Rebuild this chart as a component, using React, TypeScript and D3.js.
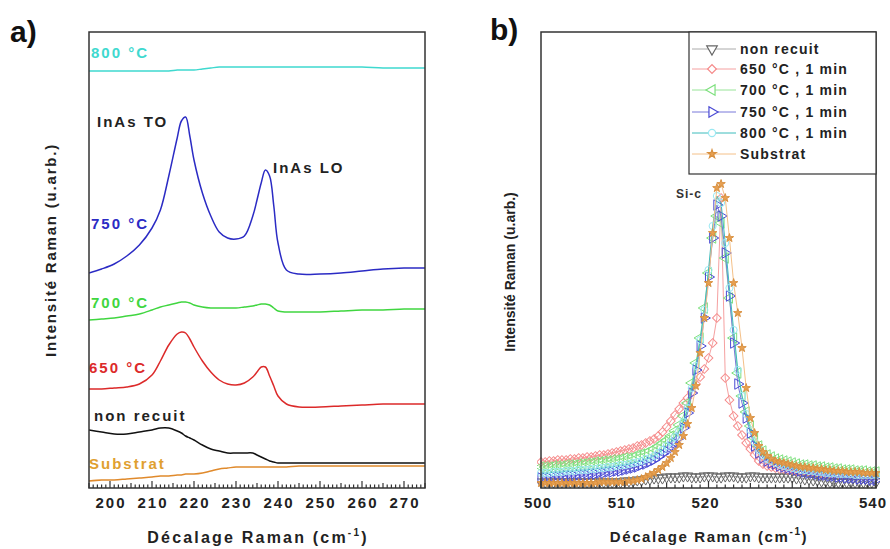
import React from "react";
import * as d3 from "d3";

// ---------- Panel a data (Raman shift, cm-1) ----------
const XA = [195, 198, 201, 204, 207, 210, 212, 214, 216, 217, 218, 219, 220, 222, 224, 226, 228, 230, 232, 234, 235, 236, 237, 238, 239, 240, 242, 245, 250, 255, 260, 265, 270, 275];
const A_800 = [417, 417, 417, 417, 417, 417, 417, 417, 418, 418, 418, 418, 418, 419, 420, 421, 421, 421, 421, 421, 421, 421, 421, 421, 421, 421, 421, 421, 421, 421, 421, 420, 420, 420];
const A_750 = [215, 219, 224, 232, 243, 260, 278, 312, 350, 367, 371, 352, 328, 295, 272, 256, 250, 249, 252, 272, 288, 305, 318, 312, 282, 245, 218, 214, 214, 215, 217, 219, 220, 220];
const A_700 = [168, 169, 170, 172, 174, 178, 181, 183, 185, 186, 186, 185, 183, 181, 180, 180, 180, 180, 181, 182, 183, 184, 184, 183, 180, 177, 176, 176, 176, 177, 178, 178, 179, 179];
const A_650 = [99, 99, 100, 101, 104, 113, 127, 143, 154, 156, 155, 149, 141, 127, 116, 108, 104, 103, 105, 111, 116, 121, 121, 112, 102, 92, 84, 81, 81, 82, 83, 84, 84, 84];
const A_NONRECUIT = [58, 56, 54, 54, 56, 58, 60, 60, 57, 55, 52, 50, 48, 43, 39, 37, 35, 35, 35, 35, 33, 31, 29, 27, 26, 25, 25, 25, 25, 25, 25, 25, 25, 25];
const A_SUBSTRAT = [7, 8, 8, 9, 10, 11, 12, 12, 13, 13, 14, 14, 14, 15, 17, 19, 20, 21, 21, 21, 21, 21, 21, 21, 21, 21, 21, 22, 22, 22, 22, 22, 22, 22];
const A_TICKS = [200, 210, 220, 230, 240, 250, 260, 270];

// ---------- Panel b data ----------
const XB = [
  500, 500.5, 501, 501.5, 502, 502.5, 503, 503.5, 504, 504.5, 505, 505.5, 506, 506.5, 507, 507.5, 508, 508.5, 509, 509.5,
  510, 510.5, 511, 511.5, 512, 512.5, 513, 513.5, 514, 514.5, 515, 515.5, 516, 516.5, 517, 517.5, 518, 518.5, 519, 519.5,
  520, 520.5, 521, 521.5, 522, 522.5, 523, 523.5, 524, 524.5, 525, 525.5, 526, 526.5, 527, 527.5, 528, 528.5, 529, 529.5,
  530, 530.5, 531, 531.5, 532, 532.5, 533, 533.5, 534, 534.5, 535, 535.5, 536, 536.5, 537, 537.5, 538, 538.5, 539, 539.5, 540,
];
const B_NONRECUIT = [
  6, 6, 6, 6, 6, 6, 6, 6, 6, 6, 6, 6, 6, 6, 6, 6, 6, 6, 6, 6,
  7, 7, 7, 8, 8, 9, 9, 10, 10, 10, 11, 11, 11, 11, 12, 12, 11, 11, 11, 12,
  12, 12, 11, 11, 12, 12, 12, 11, 11, 11, 12, 12, 11, 11, 11, 11, 11, 11, 11, 11,
  11, 10, 10, 9, 9, 8, 8, 7, 7, 6, 6, 6, 6, 6, 6, 6, 6, 6, 6, 6, 6,
];
const B_650 = [
  26, 26, 27, 27, 28, 28, 28, 29, 29, 30, 30, 31, 31, 32, 33, 33, 34, 35, 36, 37,
  38, 39, 40, 42, 43, 45, 47, 49, 52, 56, 61, 67, 73, 79, 85, 90, 96, 104, 111, 119,
  130, 145, 170, 290, 110, 88, 72, 62, 53, 45, 39, 33, 27, 24, 22, 21, 20, 19, 19, 18,
  18, 17, 17, 17, 16, 16, 16, 15, 15, 15, 15, 14, 14, 14, 14, 14, 13, 13, 13, 13, 13,
];
const B_700 = [
  21, 21, 21, 22, 22, 22, 23, 23, 23, 24, 24, 25, 25, 26, 26, 27, 27, 28, 28, 29,
  30, 30, 31, 33, 34, 35, 37, 39, 42, 45, 48, 52, 57, 63, 72, 85, 105, 125, 150, 180,
  215, 250, 272, 265, 230, 190, 150, 115, 92, 76, 62, 50, 42, 37, 33, 31, 29, 28, 27, 26,
  25, 24, 23, 23, 22, 22, 21, 21, 20, 20, 19, 19, 18, 18, 18, 17, 17, 17, 16, 16, 16,
];
const B_750 = [
  10, 10, 10, 11, 11, 11, 12, 12, 12, 13, 13, 13, 14, 14, 15, 15, 16, 16, 17, 17,
  18, 19, 20, 21, 23, 24, 26, 28, 31, 34, 37, 41, 45, 50, 60, 75, 95, 118, 142, 170,
  211, 250, 283, 272, 235, 192, 145, 104, 85, 70, 55, 42, 35, 30, 27, 25, 24, 22, 21, 20,
  19, 18, 17, 16, 15, 15, 14, 13, 13, 12, 12, 11, 11, 10, 10, 10, 9, 9, 9, 8, 8,
];
const B_800 = [
  15, 15, 15, 16, 16, 16, 17, 17, 17, 18, 18, 18, 19, 19, 20, 20, 21, 21, 22, 23,
  23, 24, 25, 26, 27, 29, 30, 32, 35, 38, 42, 46, 51, 57, 66, 80, 100, 122, 148, 178,
  218, 262, 292, 285, 245, 200, 158, 118, 92, 74, 58, 46, 38, 33, 29, 27, 25, 23, 22, 21,
  20, 19, 18, 18, 17, 17, 16, 16, 15, 15, 15, 14, 14, 14, 14, 13, 13, 13, 13, 13, 13,
];
const B_SUBSTRAT = [
  5, 5, 5, 5, 5, 5, 5, 5, 5, 5, 5, 5, 5, 5, 6, 6, 6, 6, 6, 6,
  6, 7, 7, 8, 9, 11, 13, 15, 18, 21, 25, 30, 36, 43, 52, 64, 80, 102, 135, 170,
  205, 255, 300, 304, 290, 250, 205, 175, 140, 100, 70, 55, 42, 36, 32, 29, 27, 26, 25, 24,
  23, 22, 21, 21, 20, 20, 19, 19, 18, 18, 17, 17, 17, 16, 16, 16, 16, 15, 15, 15, 15,
];
const B_TICKS = [500, 510, 520, 530, 540];
const B_LEGEND = ["non recuit", "650 °C , 1 min", "700 °C , 1 min", "750 °C , 1 min", "800 °C , 1 min", "Substrat"];

const FONT = "'Liberation Sans', Arial, sans-serif";

// ---------- geometry ----------
const TOP = 32;
const BOTTOM = 488;
const A_LEFT = 89, A_RIGHT = 425;
const B_LEFT = 541, B_RIGHT = 876;

const xA = d3.scaleLinear().domain([195, 275]).range([A_LEFT, A_RIGHT]);
const yA = d3.scaleLinear().domain([0, 456]).range([BOTTOM, TOP]);
const xB = d3.scaleLinear().domain([500, 540]).range([B_LEFT, B_RIGHT]);
const yB = d3.scaleLinear().domain([0, 456]).range([BOTTOM, TOP]);

const seriesA = [
  { v: A_800, color: "#3fd9cf" },
  { v: A_750, color: "#2b2bc4" },
  { v: A_700, color: "#40d640" },
  { v: A_650, color: "#dc2a2a" },
  { v: A_NONRECUIT, color: "#111111" },
  { v: A_SUBSTRAT, color: "#e08a2c" },
];

const labelsA = [
  { t: "800 °C", x: 91, y: 58, color: "#3fd9cf" },
  { t: "InAs TO", x: 97, y: 127, color: "#222" },
  { t: "InAs LO", x: 273, y: 173, color: "#222" },
  { t: "750 °C", x: 91, y: 229, color: "#2b2bc4" },
  { t: "700 °C", x: 91, y: 308, color: "#40d640" },
  { t: "650 °C", x: 89, y: 373, color: "#dc2a2a" },
  { t: "non recuit", x: 94, y: 421, color: "#222" },
  { t: "Substrat", x: 89, y: 469, color: "#e0a030" },
];

type Marker = "down" | "diamond" | "left" | "right" | "circle" | "star";
const seriesB: { v: number[]; stroke: string; line: string; marker: Marker; fill: string }[] = [
  { v: B_NONRECUIT, stroke: "#666", line: "#aaa", marker: "down", fill: "none" },
  { v: B_650, stroke: "#f58a8a", line: "#f5a0a0", marker: "diamond", fill: "none" },
  { v: B_700, stroke: "#7ee07e", line: "#98e498", marker: "left", fill: "none" },
  { v: B_750, stroke: "#4a4ad4", line: "#7878da", marker: "right", fill: "none" },
  { v: B_800, stroke: "#9ae8f2", line: "#3cbcbc", marker: "circle", fill: "none" },
  { v: B_SUBSTRAT, stroke: "#d89040", line: "#f4c088", marker: "star", fill: "#e8a050" },
];

function markerPath(m: Marker): { d: string; rot: number } {
  switch (m) {
    case "down": return { d: d3.symbol(d3.symbolTriangle, 48)() as string, rot: 180 };
    case "left": return { d: d3.symbol(d3.symbolTriangle, 48)() as string, rot: -90 };
    case "right": return { d: d3.symbol(d3.symbolTriangle, 48)() as string, rot: 90 };
    case "diamond": return { d: d3.symbol(d3.symbolSquare, 38)() as string, rot: 45 };
    case "circle": return { d: d3.symbol(d3.symbolCircle, 40)() as string, rot: 0 };
    case "star": return { d: d3.symbol(d3.symbolStar, 22)() as string, rot: 0 };
  }
}

function BottomTicks({ x, lo, hi, step, majorEvery }: { x: d3.ScaleLinear<number, number>; lo: number; hi: number; step: number; majorEvery: number }) {
  const vals = d3.range(lo, hi + step / 2, step);
  return (
    <g>
      {vals.map((v, i) => {
        const major = Math.abs(v / majorEvery - Math.round(v / majorEvery)) < 1e-6;
        const half = Math.abs((v / (majorEvery / 2)) - Math.round(v / (majorEvery / 2))) < 1e-6;
        const len = major ? 7 : half ? 5 : 3.5;
        return <line key={i} x1={x(v)} x2={x(v)} y1={BOTTOM} y2={BOTTOM - len} stroke="#333" strokeWidth={1.2} />;
      })}
    </g>
  );
}

export default function App() {
  const lineA = d3.line<number>().x((_, i) => xA(XA[i])).y((d) => yA(d)).curve(d3.curveCatmullRom.alpha(0.5));
  const lineB = d3.line<number>().x((_, i) => xB(XB[i])).y((d) => yB(d));

  const legendRows = [49, 69, 90, 112, 133, 154];

  return (
    <svg width={890} height={549} style={{ position: "absolute", left: 0, top: 0, background: "#fff" }} fontFamily={FONT}>
      <defs>
        <clipPath id="clipA"><rect x={A_LEFT} y={TOP} width={A_RIGHT - A_LEFT} height={BOTTOM - TOP} /></clipPath>
        <clipPath id="clipB"><rect x={B_LEFT - 4} y={TOP} width={B_RIGHT - B_LEFT + 8} height={BOTTOM - TOP + 4} /></clipPath>
      </defs>

      {/* ---------------- Panel a ---------------- */}
      <text x={10} y={42} fontSize={30} fontWeight="bold" fill="#111">a)</text>
      <g clipPath="url(#clipA)">
        {seriesA.map((s, i) => (
          <path key={i} d={lineA(s.v) as string} fill="none" stroke={s.color} strokeWidth={1.5} />
        ))}
      </g>
      {labelsA.map((l, i) => (
        <text key={i} x={l.x} y={l.y} fontSize={15} fontWeight="bold" fill={l.color} letterSpacing={2}>{l.t}</text>
      ))}
      <rect x={A_LEFT} y={TOP} width={A_RIGHT - A_LEFT} height={BOTTOM - TOP} fill="none" stroke="#333" strokeWidth={1.5} />
      <BottomTicks x={xA} lo={195} hi={275} step={1} majorEvery={10} />
      {A_TICKS.map((t) => (
        <text key={t} x={xA(t) + 1} y={508} textAnchor="middle" fontSize={15} fontWeight="bold" fill="#222" letterSpacing={2}>{t}</text>
      ))}
      <text x={258} y={543} textAnchor="middle" fontSize={16} fontWeight="bold" fill="#222" letterSpacing={2.2}>
        Décalage Raman (cm<tspan fontSize={10} dy={-7}>-1</tspan><tspan dy={7}>)</tspan>
      </text>
      <text transform="translate(56,250) rotate(-90)" textAnchor="middle" fontSize={15} fontWeight="bold" fill="#222" letterSpacing={1.8}>
        Intensité Raman (u.arb.)
      </text>

      {/* ---------------- Panel b ---------------- */}
      <text x={490} y={40} fontSize={30} fontWeight="bold" fill="#111">b)</text>
      <g clipPath="url(#clipB)">
        {seriesB.map((s, i) => {
          const mp = markerPath(s.marker);
          return (
            <g key={i}>
              <path d={lineB(s.v) as string} fill="none" stroke={s.line} strokeWidth={1} />
              {s.v.map((v, j) => (
                <path key={j} d={mp.d} transform={`translate(${xB(XB[j])},${yB(v)}) rotate(${mp.rot})`}
                  fill={s.fill} stroke={s.stroke} strokeWidth={1} />
              ))}
            </g>
          );
        })}
      </g>
      <rect x={B_LEFT} y={TOP} width={B_RIGHT - B_LEFT} height={BOTTOM - TOP} fill="none" stroke="#333" strokeWidth={1.5} />
      <BottomTicks x={xB} lo={500} hi={540} step={1} majorEvery={10} />
      {B_TICKS.map((t) => (
        <text key={t} x={xB(t) - 3} y={508} textAnchor="middle" fontSize={15} fontWeight="bold" fill="#222" letterSpacing={1}>{t}</text>
      ))}
      <text x={709} y={542} textAnchor="middle" fontSize={15} fontWeight="bold" fill="#222" letterSpacing={1.6}>
        Décalage Raman (cm<tspan fontSize={10} dy={-7}>-1</tspan><tspan dy={7}>)</tspan>
      </text>
      <text transform="translate(515,272) rotate(-90)" textAnchor="middle" fontSize={14} fontWeight="bold" fill="#222">
        Intensité Raman (u.arb.)
      </text>
      <text x={676} y={198} fontSize={12} fontWeight="bold" fill="#333" letterSpacing={1}>Si-c</text>

      {/* legend */}
      <rect x={689} y={TOP} width={B_RIGHT - 689} height={174 - TOP} fill="#fff" stroke="#333" strokeWidth={1.2} />
      {seriesB.map((s, i) => {
        const mp = markerPath(s.marker);
        const y = legendRows[i];
        return (
          <g key={i}>
            <line x1={692} x2={736} y1={y} y2={y} stroke={s.line} strokeWidth={1} />
            <path d={mp.d} transform={`translate(712,${y}) rotate(${mp.rot})`} fill={s.fill === "none" ? "#fff" : s.fill} stroke={s.stroke} strokeWidth={1.2} />
            <text x={740} y={y + 5} fontSize={14} fontWeight="bold" fill="#222" letterSpacing={1.2}>{B_LEGEND[i]}</text>
          </g>
        );
      })}
    </svg>
  );
}
